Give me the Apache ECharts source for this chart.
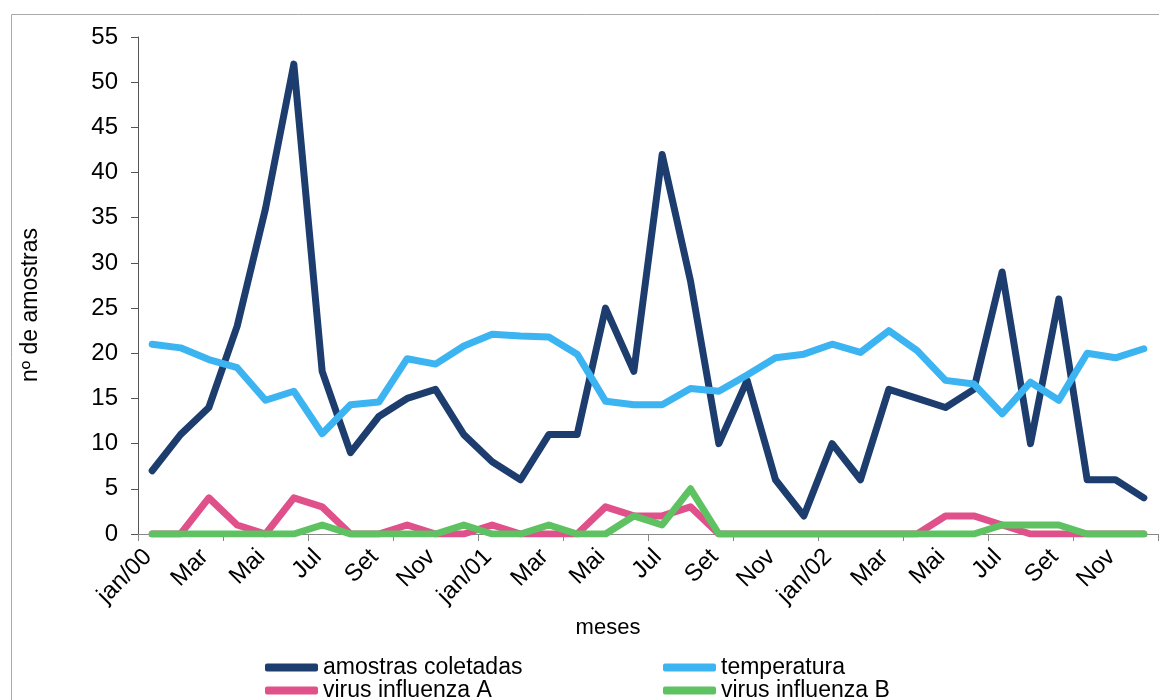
<!DOCTYPE html>
<html>
<head>
<meta charset="utf-8">
<script src="https://cdn.jsdelivr.net/npm/echarts@6/dist/echarts.min.js"></script>
<style>
  html, body { margin: 0; padding: 0; background: #ffffff; }
  #chart { width: 1159px; height: 700px; }
</style>
</head>
<body>
<div id="chart"></div>
<script>
// Monthly categories, Jan 2000 to Dec 2002
const meses = [
  'jan/00', 'Fev', 'Mar', 'Abr', 'Mai', 'Jun', 'Jul', 'Ago', 'Set', 'Out', 'Nov', 'Dez',
  'jan/01', 'Fev', 'Mar', 'Abr', 'Mai', 'Jun', 'Jul', 'Ago', 'Set', 'Out', 'Nov', 'Dez',
  'jan/02', 'Fev', 'Mar', 'Abr', 'Mai', 'Jun', 'Jul', 'Ago', 'Set', 'Out', 'Nov', 'Dez'
];

// Samples collected per month
const amostrasColetadas = [
  7, 11, 14, 23, 36, 52, 18, 9, 13, 15, 16, 11,
  8, 6, 11, 11, 25, 18, 42, 28, 10, 17, 6, 2,
  10, 6, 16, 15, 14, 16, 29, 10, 26, 6, 6, 4
];

// Mean monthly temperature (°C)
const temperatura = [
  21.0, 20.6, 19.3, 18.4, 14.8, 15.8, 11.1, 14.3, 14.6, 19.4, 18.8, 20.8,
  22.1, 21.9, 21.8, 19.9, 14.7, 14.3, 14.3, 16.1, 15.8, 17.6, 19.5, 19.9,
  21.0, 20.1, 22.5, 20.3, 17.0, 16.6, 13.3, 16.8, 14.8, 20.0, 19.5, 20.5
];

// Positive samples, influenza A
const influenzaA = [
  0, 0, 4, 1, 0, 4, 3, 0, 0, 1, 0, 0,
  1, 0, 0, 0, 3, 2, 2, 3, 0, 0, 0, 0,
  0, 0, 0, 0, 2, 2, 1, 0, 0, 0, 0, 0
];

// Positive samples, influenza B
const influenzaB = [
  0, 0, 0, 0, 0, 0, 1, 0, 0, 0, 0, 1,
  0, 0, 1, 0, 0, 2, 1, 5, 0, 0, 0, 0,
  0, 0, 0, 0, 0, 0, 1, 1, 1, 0, 0, 0
];

const yTicks = { min: 0, max: 55, interval: 5 };

const FONT = '"Liberation Sans", Arial, sans-serif';

const chart = echarts.init(document.getElementById('chart'), null, { renderer: 'canvas' });

function lineSeries(name, data, color) {
  return {
    name: name,
    type: 'line',
    data: data,
    symbol: 'none',
    smooth: false,
    lineStyle: { color: color, width: 7, cap: 'round', join: 'round' },
    itemStyle: { color: color },
    emphasis: { disabled: true },
    animation: false
  };
}

// One legend entry per box so the 2 x 2 arrangement stays fixed
function legendItem(name, left, top) {
  return {
    data: [name],
    left: left,
    top: top,
    icon: 'roundRect',
    itemWidth: 53,
    itemHeight: 8,
    padding: 0,
    selectedMode: false,
    textStyle: { fontFamily: FONT, fontSize: 23, lineHeight: 22, color: '#000' }
  };
}

chart.setOption({
  animation: false,
  backgroundColor: '#ffffff',
  grid: { left: 138, right: 1, top: 37, bottom: 166, containLabel: false },
  xAxis: {
    type: 'category',
    data: meses,
    boundaryGap: true,
    axisLine: { show: true, lineStyle: { color: '#888', width: 1 } },
    axisTick: { show: true, interval: 2, length: 7, inside: false, lineStyle: { color: '#888' } },
    axisLabel: {
      interval: 1,
      rotate: 45,
      margin: 15,
      padding: [0, 6, 0, 0],
      fontFamily: FONT,
      fontSize: 24,
      color: '#000'
    },
    splitLine: { show: false }
  },
  yAxis: {
    type: 'value',
    min: yTicks.min,
    max: yTicks.max,
    interval: yTicks.interval,
    axisLine: { show: true, lineStyle: { color: '#555', width: 1 } },
    axisTick: { show: true, length: 7, inside: false, lineStyle: { color: '#555' } },
    axisLabel: { margin: 20, fontFamily: FONT, fontSize: 24, color: '#000' },
    splitLine: { show: false }
  },
  legend: [
    legendItem('amostras coletadas', 265, 656),
    legendItem('virus influenza A', 265, 679),
    legendItem('temperatura', 663, 656),
    legendItem('virus influenza B', 663, 679)
  ],
  graphic: [
    {
      type: 'rect',
      shape: { x: 11.5, y: 14.5, width: 1300, height: 900 },
      style: { fill: 'none', stroke: '#aaa', lineWidth: 1 },
      silent: true, z: -10
    },
    {
      type: 'text',
      x: 31, y: 305,
      rotation: Math.PI / 2,
      style: {
        text: 'nº de amostras',
        fontFamily: FONT, fontSize: 23, fill: '#000',
        align: 'center', verticalAlign: 'middle'
      }
    },
    {
      type: 'text',
      x: 608, y: 628,
      style: {
        text: 'meses',
        fontFamily: FONT, fontSize: 22, fill: '#000',
        align: 'center', verticalAlign: 'middle'
      }
    }
  ],
  series: [
    lineSeries('amostras coletadas', amostrasColetadas, '#1e3d6f'),
    lineSeries('temperatura', temperatura, '#3cb4f2'),
    lineSeries('virus influenza A', influenzaA, '#e0508a'),
    lineSeries('virus influenza B', influenzaB, '#5ec262')
  ]
});
</script>
</body>
</html>
